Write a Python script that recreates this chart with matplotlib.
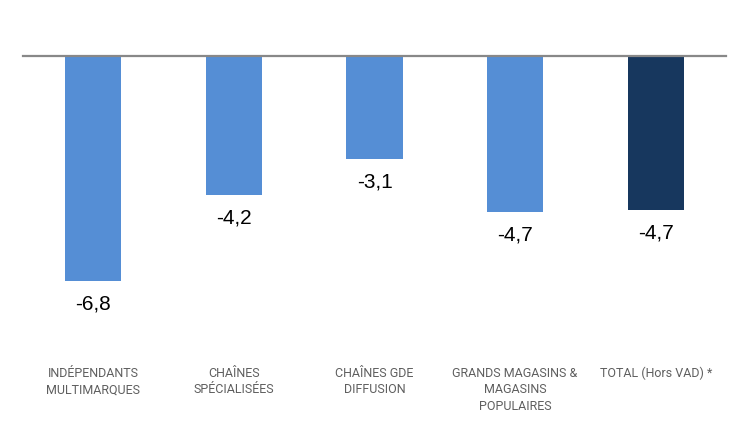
import matplotlib
matplotlib.use('Agg')
import matplotlib.pyplot as plt

# categories and values
categories = ['INDÉPENDANTS\nMULTIMARQUES', 'CHAÎNES\nSPÉCIALISÉES', 'CHAÎNES GDE\nDIFFUSION',
              'GRANDS MAGASINS &\nMAGASINS\nPOPULAIRES', 'TOTAL (Hors VAD) *']
values = [-6.8, -4.2, -3.1, -4.72, -4.66]
colors = ['#558ED5', '#558ED5', '#558ED5', '#558ED5', '#17375E']

W, H = 749, 426
fig = plt.figure(figsize=(W / 100, H / 100), dpi=100)
# axes from the baseline (y=56px) down to y=321px, x from 23 to 726px
ax = fig.add_axes([23 / W, 1 - 321 / H, 703 / W, (321 - 56) / H])

x = range(len(categories))
bars = ax.bar(x, values, width=0.4, color=colors, zorder=2)
ax.set_xlim(-0.5, 4.5)
ax.set_ylim(-8, 0)
ax.axhline(0, color='#888888', linewidth=1.6, zorder=3, clip_on=False)

# value labels under each bar
for b, v in zip(bars, values):
    ax.annotate(f'{v:.1f}'.replace('.', ','), (b.get_x() + b.get_width() / 2, v),
                xytext=(0, -16.5), textcoords='offset points', ha='center', va='center',
                fontsize=15, family='Liberation Sans', color='black')

ax.set_xticks(list(x))
ax.set_xticklabels(categories, fontsize=9, family='Roboto', fontweight='normal',
                   color='#5f5f5f', linespacing=1.35, va='top')
ax.tick_params(axis='x', length=0, pad=33)
ax.set_yticks([])
for s in ax.spines.values():
    s.set_visible(False)

fig.savefig('out.png', dpi=100)
